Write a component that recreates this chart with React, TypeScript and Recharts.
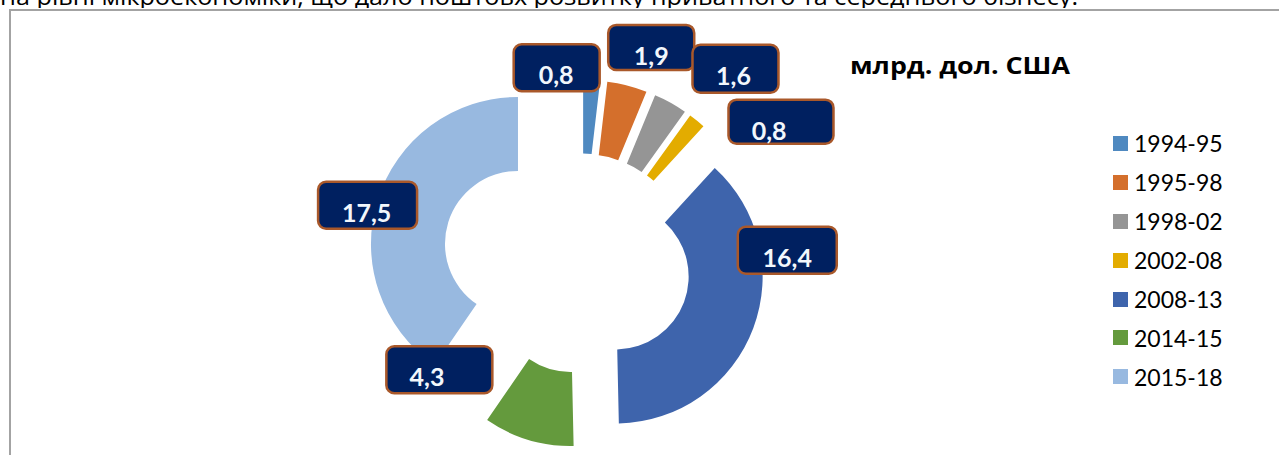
import { PieChart, Pie, Cell } from "recharts";

const categories = ["1994-95", "1995-98", "1998-02", "2002-08", "2008-13", "2014-15", "2015-18"];
const values = [0.8, 1.9, 1.6, 0.8, 16.4, 4.3, 17.5];
const unitTitle = "млрд. дол. США";
const topLine = "на рівні мікроекономіки, що дало поштовх розвитку приватного та середнього бізнесу.";

const colors = ["#4F89C0", "#D46F2C", "#959595", "#E3AC00", "#3E64AC", "#649A3D", "#98B9E0"];

// geometry / styling
const CX = 581;
const CY = 263.5;
const R_IN = 73;
const R_OUT = 147;
const explode = [37, 37, 37, 37, 37, 37, 66];
const labelNudge = [[-35, -12], [24, -38], [65, -34], [84, 1], [34, -78], [-89, -70], [-10, 5]];
const labelW = [86, 86, 86, 105, 99, 106, 99];
const labelH = [47, 45, 48, 44, 47, 47, 47];
const labelTextX = [42.5, 43, 41, 40.7, 49.5, 40.7, 48.5];

const rows = categories.map((name, i) => ({ name, value: values[i] }));
const total = values.reduce((a, b) => a + b, 0);
const RAD = Math.PI / 180;
const midAngles = values.map(
  (v, i) => 90 - (360 * (values.slice(0, i).reduce((a, b) => a + b, 0) + v / 2)) / total
);

function offset(i: number) {
  const a = midAngles[i] * RAD;
  return { dx: explode[i] * Math.cos(a), dy: -explode[i] * Math.sin(a) };
}

function DataLabel(props: any) {
  const { index, midAngle, cx, cy } = props;
  const a = midAngle * RAD;
  const r = R_OUT + explode[index];
  const ax = cx + r * Math.cos(a);
  const ay = cy - r * Math.sin(a);
  const w = labelW[index];
  const h = labelH[index];
  const left = ax + labelNudge[index][0] - w / 2;
  const top = ay + labelNudge[index][1] - h / 2;
  return (
    <g>
      <rect
        x={left}
        y={top}
        width={w}
        height={h}
        rx={8}
        fill="#002060"
        stroke="#A9582A"
        strokeWidth={2.5}
      />
      <text
        x={left + labelTextX[index]}
        y={top + 40}
        textAnchor="middle"
        fill="#F2F7FC"
        fontFamily="Lato, 'Open Sans', sans-serif"
        fontWeight={700}
        fontSize={25}
      >
        {values[index].toFixed(1).replace(".", ",")}
      </text>
    </g>
  );
}

export default function App() {
  return (
    <div
      style={{
        position: "absolute",
        left: 0,
        top: 0,
        width: 1279,
        height: 455,
        background: "#fff",
        overflow: "hidden",
      }}
    >
      <div style={{ position: "absolute", left: 0, top: 0, width: 1279, height: 8, overflow: "hidden" }}>
        <svg width={1279} height={8} style={{ display: "block" }}>
          <text
            x={0}
            y={4.5}
            fontFamily="'Open Sans', sans-serif"
            fontSize={24}
            fill="#000"
            textLength={1078}
            lengthAdjust="spacingAndGlyphs"
          >
            {topLine}
          </text>
        </svg>
      </div>
      <div
        style={{
          position: "absolute",
          left: 9,
          top: 9,
          width: 1300,
          height: 460,
          borderLeft: "2px solid #A3A3A3",
          borderTop: "2px solid #A3A3A3",
        }}
      />
      <div style={{ position: "absolute", left: 0, top: 0 }}>
        <PieChart width={1279} height={455} margin={{ top: 0, right: 0, bottom: 0, left: 0 }}>
          {rows.map((_, i) => {
            const { dx, dy } = offset(i);
            return (
              <Pie
                key={`slice-${i}`}
                data={rows}
                dataKey="value"
                nameKey="name"
                cx={CX + dx}
                cy={CY + dy}
                innerRadius={R_IN}
                outerRadius={R_OUT}
                startAngle={90}
                endAngle={-270}
                stroke="none"
                isAnimationActive={false}
                label={false}
                labelLine={false}
              >
                {rows.map((__, j) => (
                  <Cell key={j} fill={j === i ? colors[j] : "none"} />
                ))}
              </Pie>
            );
          })}
          <Pie
            key="labels"
            data={rows}
            dataKey="value"
            nameKey="name"
            cx={CX}
            cy={CY}
            innerRadius={R_IN}
            outerRadius={R_OUT}
            startAngle={90}
            endAngle={-270}
            stroke="none"
            isAnimationActive={false}
            label={DataLabel}
            labelLine={false}
          >
            {rows.map((__, j) => (
              <Cell key={j} fill="none" />
            ))}
          </Pie>
        </PieChart>
      </div>
      <svg width={240} height={40} style={{ position: "absolute", left: 848, top: 46 }}>
        <text
          x={2}
          y={28}
          fontFamily="'Open Sans', sans-serif"
          fontWeight={700}
          fontSize={23}
          fill="#000"
          textLength={220}
          lengthAdjust="spacingAndGlyphs"
        >
          {unitTitle}
        </text>
      </svg>
      <div style={{ position: "absolute", left: 1113, top: 124 }}>
        {categories.map((c, i) => (
          <div key={c} style={{ display: "flex", alignItems: "center", height: 38.9 }}>
            <div style={{ width: 15, height: 15, background: colors[i] }} />
            <span
              style={{
                marginLeft: 6,
                fontFamily: "Lato, 'Open Sans', sans-serif",
                fontSize: 23,
                color: "#000",
                lineHeight: "26px",
              }}
            >
              {c}
            </span>
          </div>
        ))}
      </div>
    </div>
  );
}
